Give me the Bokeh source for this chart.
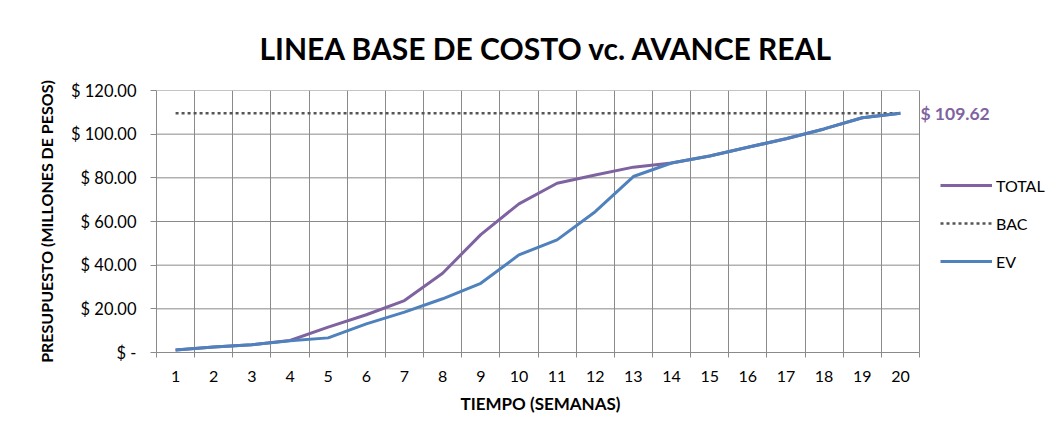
from bokeh.plotting import figure
from bokeh.models import FixedTicker, Legend, LegendItem, Label, Title
from bokeh.embed import file_html
from bokeh.resources import INLINE

weeks = list(range(1, 21))
total = [1.2, 2.5, 3.6, 5.5, 11.6, 17.3, 23.8, 36.3, 54.0, 68.1,
         77.5, 81.3, 84.9, 86.8, 90.0, 94.0, 97.9, 102.4, 107.5, 109.62]
ev = [1.2, 2.5, 3.6, 5.4, 6.7, 13.1, 18.5, 24.6, 31.7, 44.7,
      51.6, 64.5, 80.6, 86.8, 90.0, 94.0, 97.9, 102.4, 107.5, 109.62]
bac_value = 109.62
bac = [bac_value] * len(weeks)
y_ticks = [0, 20, 40, 60, 80, 100, 120]
y_labels = ["$ -", "$ 20.00", "$ 40.00", "$ 60.00", "$ 80.00", "$ 100.00", "$ 120.00"]

FONT = "Lato"
PURPLE = "#7F63A1"
BLUE = "#4F81BD"
GRID = "#8a8a8a"

W, H = 1056, 424
LEFT, TOP, BOTTOM = 156, 90, H - 352
px_per_week = 38.15
x_end = 0.5 + (W - LEFT) / px_per_week

p = figure(width=W, height=H, output_backend="svg", toolbar_location=None,
           x_range=(0.5, x_end), y_range=(0, 120),
           min_border_left=LEFT, min_border_right=0, min_border_top=TOP, min_border_bottom=BOTTOM,
           background_fill_color="white", border_fill_color="white")

p.title = Title(text="LINEA BASE DE COSTO vc. AVANCE REAL", align="left", offset=103,
                text_font=FONT, text_font_size="30px", text_font_style="bold",
                text_color="#000000", standoff=49)

p.outline_line_color = None

# x axis: labels at week centres, tick marks and grid at week boundaries
bounds = [w + 0.5 for w in range(0, 21)]
p.xaxis.bounds = (bounds[0], bounds[-1])
p.xaxis.ticker = FixedTicker(ticks=weeks, minor_ticks=bounds)
p.xaxis.major_tick_out = 0
p.xaxis.major_tick_in = 0
p.xaxis.minor_tick_out = 5
p.xaxis.minor_tick_in = 0
p.xaxis.minor_tick_line_color = GRID
p.xgrid.ticker = FixedTicker(ticks=bounds)

p.yaxis.ticker = FixedTicker(ticks=y_ticks)
p.yaxis.major_label_overrides = {t: l for t, l in zip(y_ticks, y_labels)}
p.yaxis.major_tick_out = 6
p.yaxis.major_tick_in = 0
p.yaxis.minor_tick_out = 0
p.yaxis.minor_tick_in = 0
p.yaxis.axis_label = "PRESUPUESTO (MILLONES DE PESOS)"

for ax in (p.xaxis[0], p.yaxis[0]):
    ax.axis_line_color = GRID
    ax.major_tick_line_color = GRID
    ax.major_label_text_font = FONT
    ax.major_label_text_color = "#000000"
    ax.axis_label_text_font = FONT
    ax.axis_label_text_font_size = "16px"
    ax.axis_label_text_font_style = "bold"
    ax.axis_label_text_color = "#000000"

p.xaxis.major_label_text_font_size = "16px"
p.yaxis.major_label_text_font_size = "16.5px"
p.xaxis.major_label_standoff = 13
p.yaxis.major_label_standoff = 14
p.yaxis.axis_label_standoff = 12

# x-axis title, centred under the week span (not under the whole frame)
p.add_layout(Title(text="TIEMPO (SEMANAS)", align="left", offset=304,
                   text_font=FONT, text_font_size="17px", text_font_style="bold",
                   text_color="#000000", standoff=13), "below")

p.xgrid.grid_line_color = GRID
p.xgrid.grid_line_width = 1
p.ygrid.grid_line_color = None

# horizontal grid lines limited to the week span
p.segment(x0=[bounds[0]] * len(y_ticks), x1=[bounds[-1]] * len(y_ticks),
          y0=y_ticks, y1=y_ticks, line_color=GRID, line_width=1)

r_total = p.line(weeks, total, line_color=PURPLE, line_width=3)
r_bac = p.line(weeks, bac, line_color="#555555", line_width=2.5, line_dash="3 3")
r_ev = p.line(weeks, ev, line_color=BLUE, line_width=3)

p.add_layout(Label(x=weeks[-1], y=bac_value, text="$ %.2f" % bac_value, x_offset=20,
                   text_baseline="middle", text_font=FONT, text_font_size="17.5px",
                   text_font_style="bold", text_color=PURPLE))

legend = Legend(items=[LegendItem(label="TOTAL", renderers=[r_total]),
                       LegendItem(label="BAC", renderers=[r_bac]),
                       LegendItem(label="EV", renderers=[r_ev])],
                location=(784, 81), orientation="vertical",
                glyph_width=52, glyph_height=20, label_height=20, spacing=18,
                label_standoff=4, padding=0, margin=0,
                border_line_color=None, background_fill_alpha=0,
                label_text_font=FONT, label_text_font_size="16px", label_text_color="#000000")
p.add_layout(legend, "center")

open("out.html", "w").write(file_html(p, INLINE))
